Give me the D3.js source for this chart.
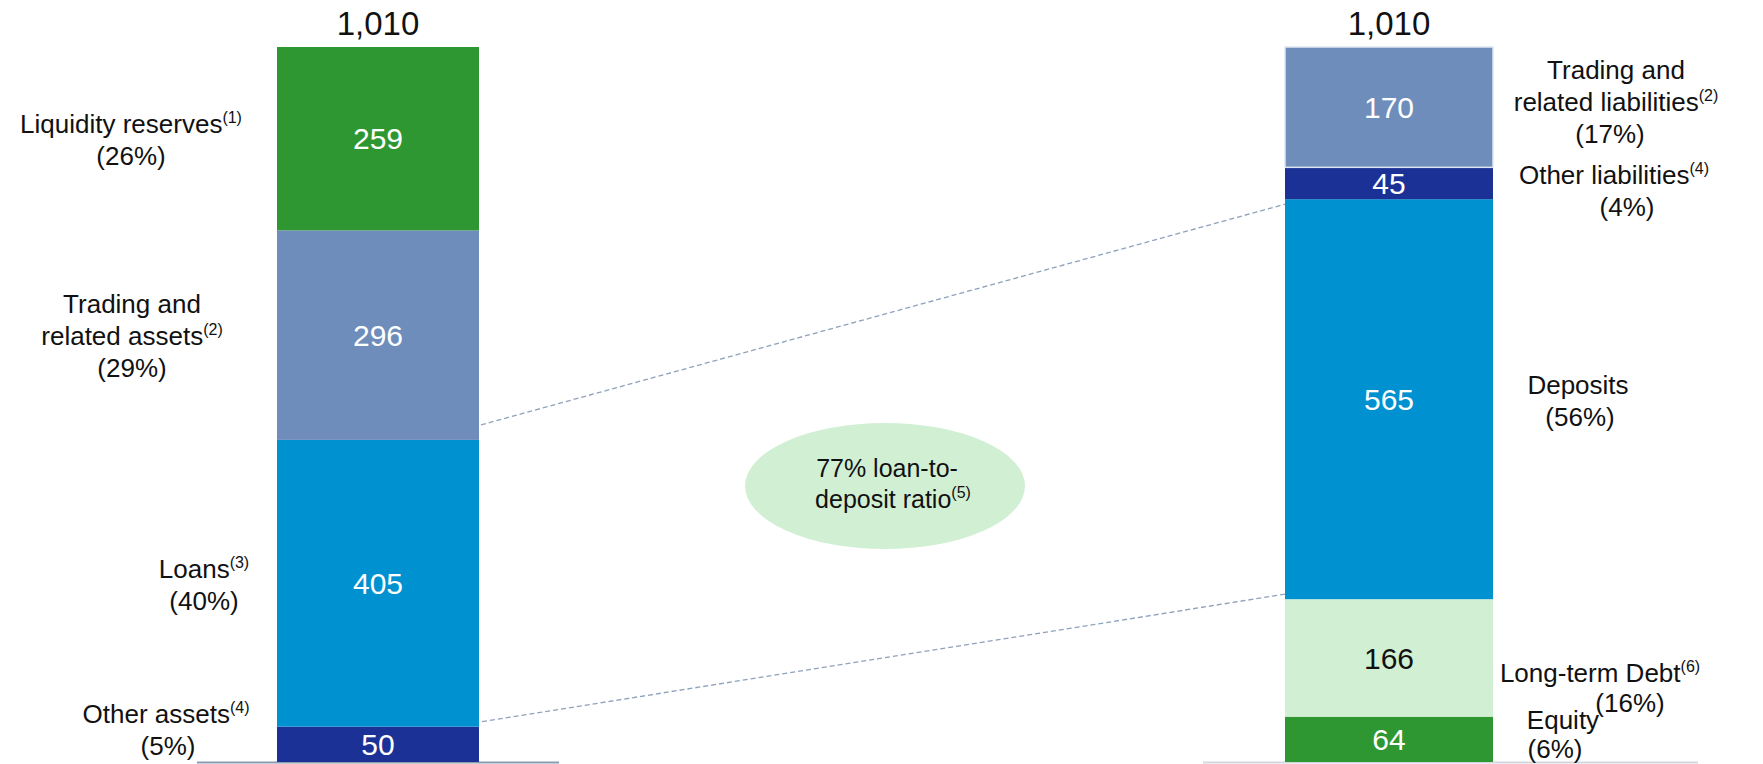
<!DOCTYPE html>
<html>
<head>
<meta charset="utf-8">
<title>Balance sheet</title>
<script src="https://cdn.jsdelivr.net/npm/d3@7/dist/d3.min.js"></script>
<style>
  body { margin: 0; background: #fff; }
  text { font-family: "Liberation Sans", Arial, sans-serif; }
</style>
</head>
<body>
<script>
// data, bottom segment first
var columns = ["Assets", "Liabilities"];
var totals = [1010, 1010];

var assetNames = ["Other assets", "Loans", "Trading and related assets", "Liquidity reserves"];
var assetValues = [50, 405, 296, 259];
var assetPct = ["5%", "40%", "29%", "26%"];
var assetNotes = ["4", "3", "2", "1"];

var liabNames = ["Equity", "Long-term Debt", "Deposits", "Other liabilities", "Trading and related liabilities"];
var liabValues = [64, 166, 565, 45, 170];
var liabPct = ["6%", "16%", "56%", "4%", "17%"];
var liabNotes = ["", "6", "", "4", "2"];

var ratioText = ["77% loan-to-", "deposit ratio"];
var ratioNote = "5";

var colors = {
  "Other assets": "#1b3195",
  "Loans": "#0091d0",
  "Trading and related assets": "#6f8dba",
  "Liquidity reserves": "#2e9731",
  "Equity": "#2e9731",
  "Long-term Debt": "#d1f0d3",
  "Deposits": "#0091d0",
  "Other liabilities": "#1b3195",
  "Trading and related liabilities": "#6f8dba"
};

var W = 1763, H = 764;
var svg = d3.select("body").append("svg")
    .attr("width", W)
    .attr("height", H);

var y = d3.scaleLinear().domain([0, 1010]).range([762, 47]);
var x = d3.scalePoint().domain(columns).range([378, 1389]);
var barW = { "Assets": 202, "Liabilities": 208 };

function stackUp(names, values) {
  var acc = 0;
  return names.map(function (n, i) {
    var d = { name: n, value: values[i], y0: acc, y1: acc + values[i] };
    acc += values[i];
    return d;
  });
}
var assets = stackUp(assetNames, assetValues);
var liabs = stackUp(liabNames, liabValues);

// baselines under the bars
svg.append("line").attr("x1", 197).attr("x2", 559)
    .attr("y1", y(0) + 0.5).attr("y2", y(0) + 0.5)
    .attr("stroke", "#8a9bb2").attr("stroke-width", 2);
svg.append("line").attr("x1", 1203).attr("x2", 1698)
    .attr("y1", y(0) + 0.5).attr("y2", y(0) + 0.5)
    .attr("stroke", "#d3d7de").attr("stroke-width", 2);

// dashed connectors loans -> deposits
var loans = assets[1], deps = liabs[2];
var lx = x("Assets") + barW["Assets"] / 2, rx = x("Liabilities") - barW["Liabilities"] / 2;
var conn = [
  [lx + 2, y(loans.y1) - 15, rx, y(deps.y1) + 5],
  [lx + 3, y(loans.y0) - 5, rx, y(deps.y0) - 5]
];
svg.selectAll(".conn").data(conn).enter().append("line")
    .attr("x1", function (d) { return d[0]; })
    .attr("y1", function (d) { return d[1]; })
    .attr("x2", function (d) { return d[2]; })
    .attr("y2", function (d) { return d[3]; })
    .attr("stroke", "#8fa2bb")
    .attr("stroke-width", 1.3)
    .attr("stroke-dasharray", "5,3");

function drawBar(col, data) {
  var g = svg.append("g");
  var w = barW[col];
  g.selectAll("rect").data(data).enter().append("rect")
      .attr("x", x(col) - w / 2)
      .attr("width", w)
      .attr("y", function (d) { return y(d.y1); })
      .attr("height", function (d) { return y(d.y0) - y(d.y1); })
      .attr("fill", function (d) { return colors[d.name]; })
      .attr("stroke", function (d) { return d.name == "Trading and related liabilities" ? "#dfe6f0" : "none"; })
      .attr("stroke-width", 1.5);
  g.selectAll("text").data(data).enter().append("text")
      .attr("x", x(col))
      .attr("y", function (d) { return (y(d.y0) + y(d.y1)) / 2; })
      .attr("dy", "0.36em")
      .attr("text-anchor", "middle")
      .attr("font-size", 30)
      .attr("fill", function (d) { return d.name == "Long-term Debt" ? "#111" : "#fff"; })
      .text(function (d) { return d.value; });
}
drawBar("Assets", assets);
drawBar("Liabilities", liabs);

// totals above
svg.selectAll(".total").data(columns).enter().append("text")
    .attr("x", function (d) { return x(d); })
    .attr("y", 35)
    .attr("text-anchor", "middle")
    .attr("font-size", 33)
    .attr("fill", "#111")
    .text(function (d, i) { return d3.format(",")(totals[i]); });

// side labels
function label(lines, note, pct, cx, by, pctDx, lh) {
  lh = lh || 32;
  var t = svg.append("text")
      .attr("text-anchor", "middle")
      .attr("font-size", 26)
      .attr("fill", "#111");
  var all = lines.concat(["(" + pct + ")"]);
  all.forEach(function (ln, i) {
    var isPct = i == all.length - 1;
    var s = t.append("tspan")
        .attr("x", cx + (isPct ? (pctDx || 0) : 0))
        .attr("y", by + i * lh).text(ln);
    if (i == lines.length - 1 && note) {
      s.append("tspan").attr("font-size", 16).attr("dy", -10).text("(" + note + ")");
    }
  });
}

label(["Liquidity reserves"], assetNotes[3], assetPct[3], 131, 133);
label(["Trading and", "related assets"], assetNotes[2], assetPct[2], 132, 313);
label(["Loans"], assetNotes[1], assetPct[1], 204, 578);
label(["Other assets"], assetNotes[0], assetPct[0], 166, 723, 2);

label(["Trading and", "related liabilities"], liabNotes[4], liabPct[4], 1616, 79, -6);
label(["Other liabilities"], liabNotes[3], liabPct[3], 1614, 184, 13);
label(["Deposits"], liabNotes[2], liabPct[2], 1578, 394, 2);
label(["Long-term Debt"], liabNotes[1], liabPct[1], 1600, 682, 30, 30);
label(["Equity"], liabNotes[0], liabPct[0], 1563, 729, -8, 29);

// loan-to-deposit bubble
svg.append("ellipse")
    .attr("cx", 885).attr("cy", 486)
    .attr("rx", 140).attr("ry", 63)
    .attr("fill", "#d1efd3");
var rt = svg.append("text").attr("text-anchor", "middle")
    .attr("font-size", 25).attr("fill", "#111");
rt.append("tspan").attr("x", 887).attr("y", 477).text(ratioText[0]);
var l2 = rt.append("tspan").attr("x", 893).attr("y", 508).text(ratioText[1]);
l2.append("tspan").attr("font-size", 16).attr("dy", -10).text("(" + ratioNote + ")");
</script>
</body>
</html>
